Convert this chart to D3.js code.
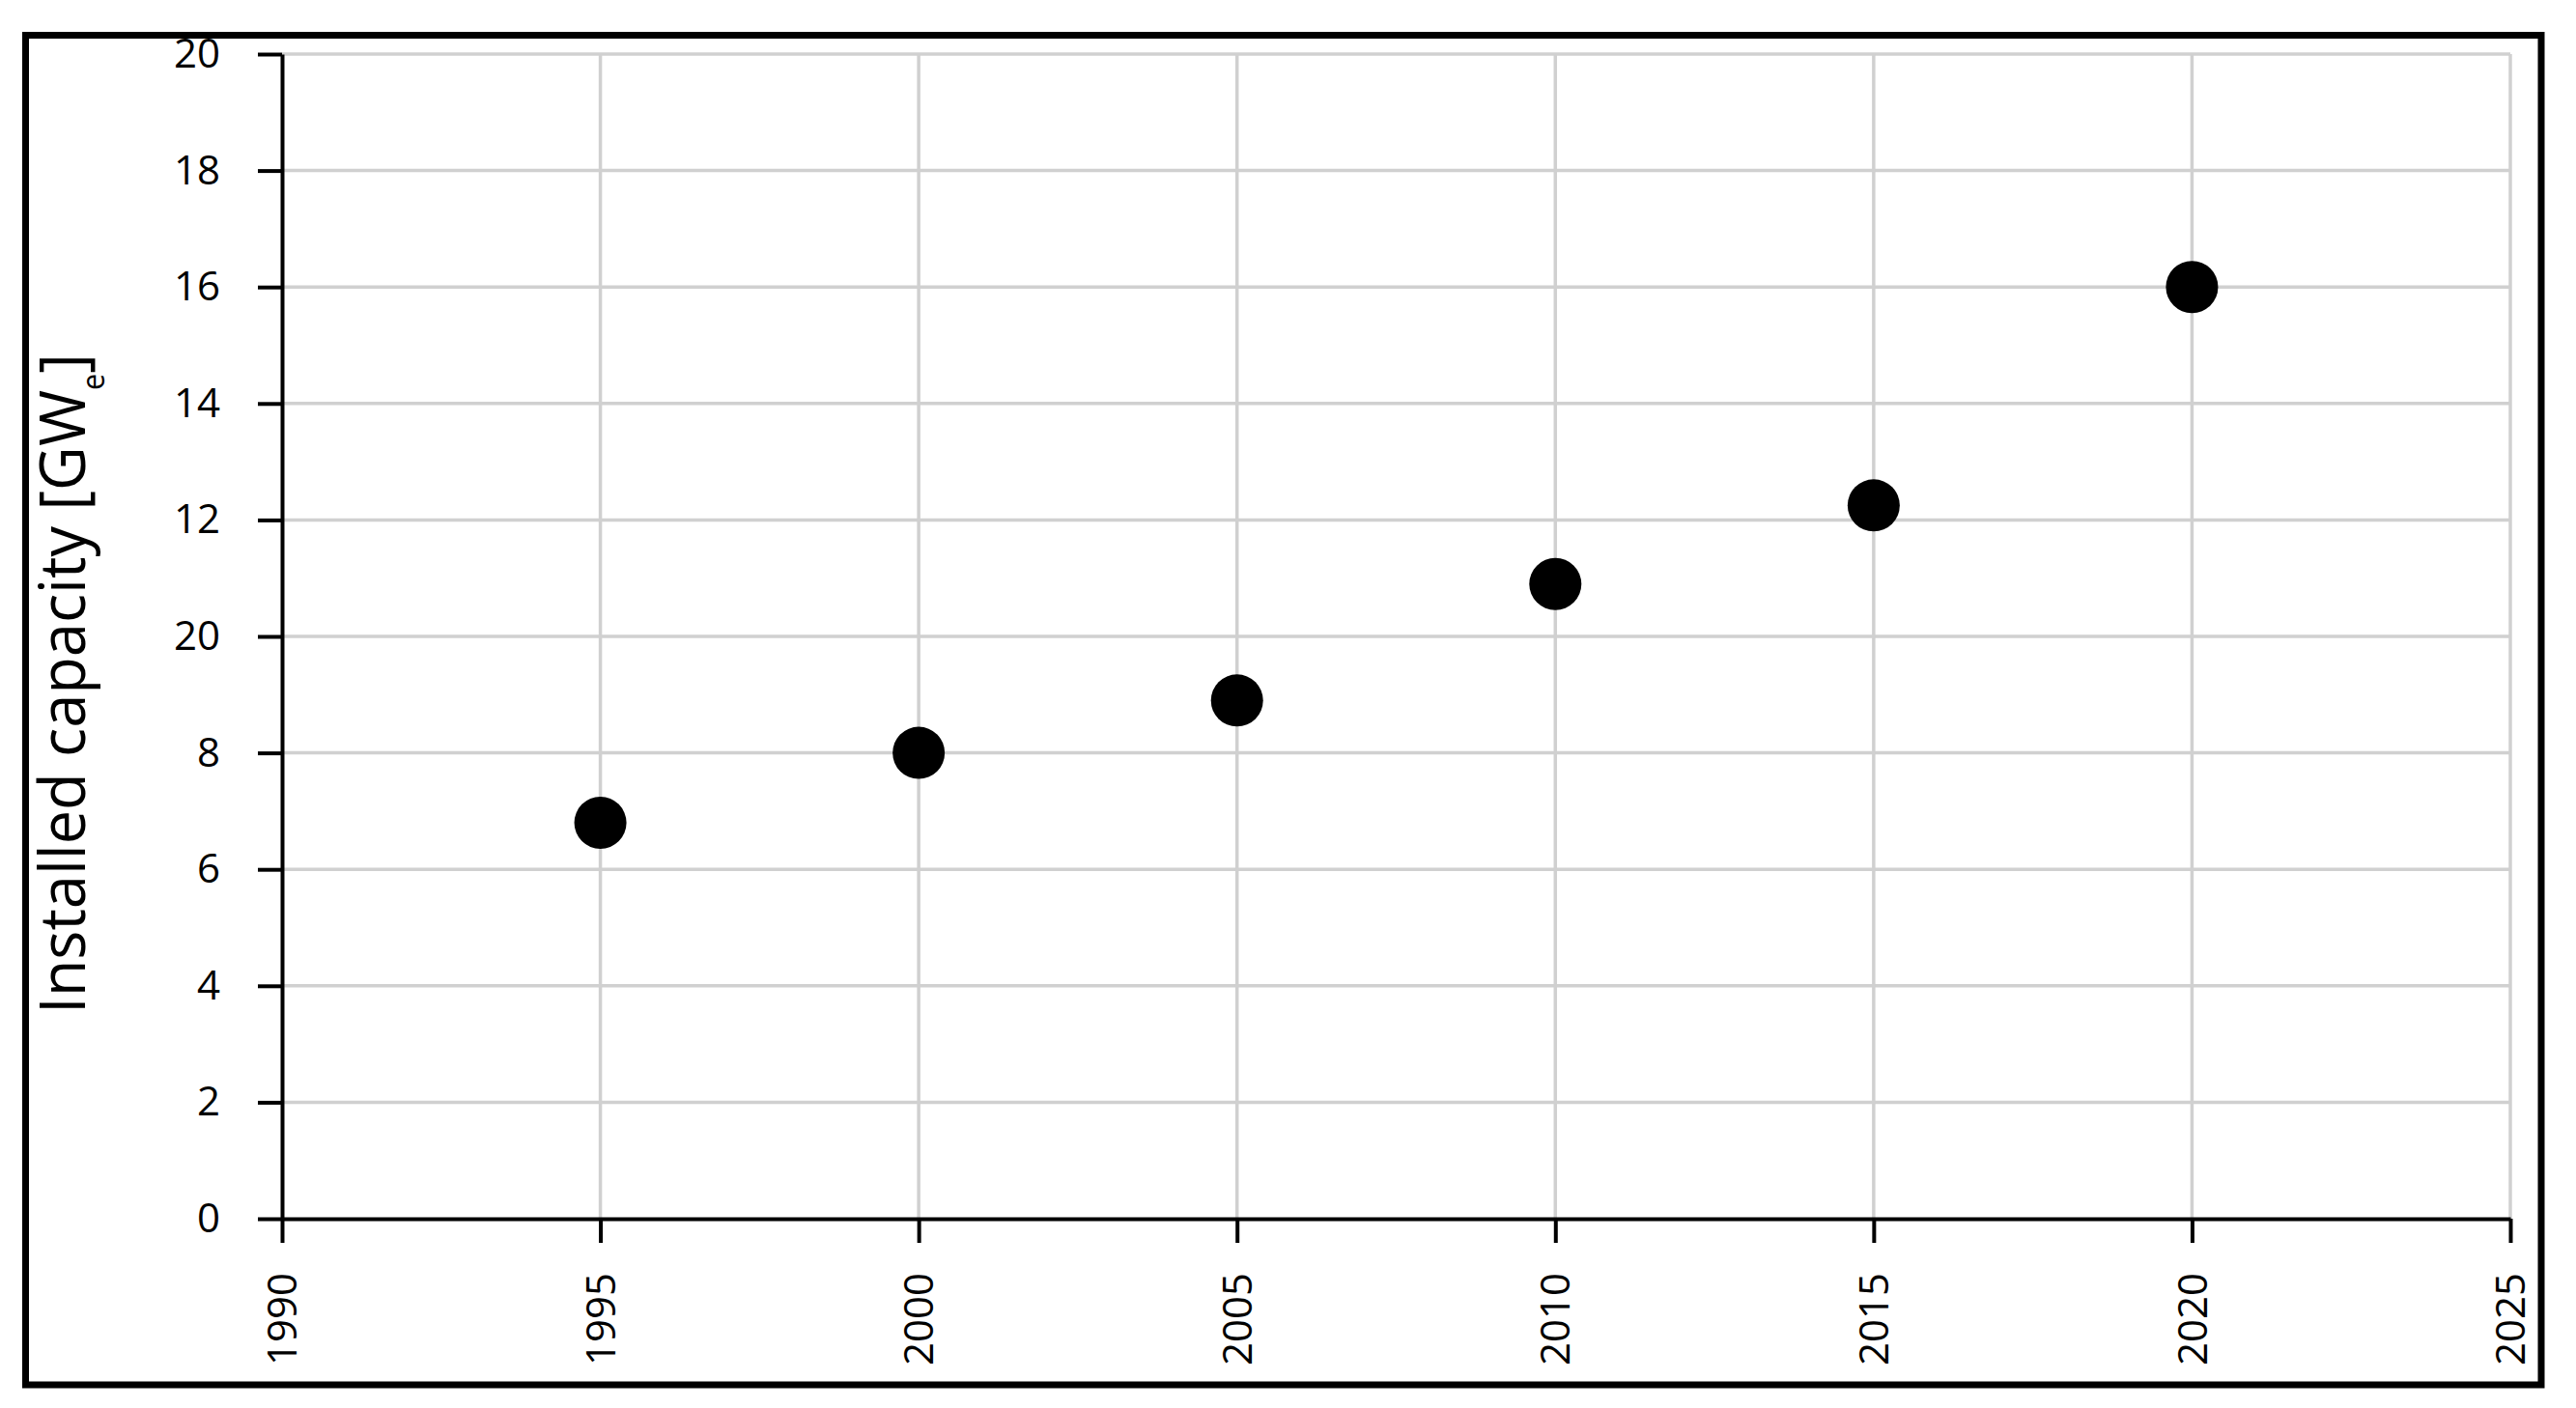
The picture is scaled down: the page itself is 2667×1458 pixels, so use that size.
<!DOCTYPE html>
<html>
<head>
<meta charset="utf-8">
<script src="https://cdn.jsdelivr.net/npm/d3@7"></script>
<style>
  html, body { margin: 0; padding: 0; background: #fff; }
  svg { display: block; }
  text { font-family: "Open Sans", "Noto Sans", sans-serif; fill: #000; }
</style>
</head>
<body>
<svg id="chart" width="2667" height="1458"></svg>
<script>
// ---- Data ----
const years = [1995, 2000, 2005, 2010, 2015, 2020];
const capacity = [6.8, 8.0, 8.9, 10.9, 12.25, 16.0];
const xTickValues = [1990, 1995, 2000, 2005, 2010, 2015, 2020, 2025];
const yTickValues = [0, 2, 4, 6, 8, 10, 12, 14, 16, 18, 20];
const yTickLabels = ["0", "2", "4", "6", "8", "20", "12", "14", "16", "18", "20"];
const yTitleMain = "Installed capacity [GW";
const yTitleSub = "e";
const yTitleEnd = "]";

// ---- Layout ----
const W = 2667, H = 1458;
const plot = { left: 292, right: 2599, top: 56, bottom: 1262 };

const svg = d3.select("#chart");

svg.append("rect").attr("width", W).attr("height", H).attr("fill", "#fff");

// outer frame
svg.append("rect")
  .attr("x", 26.5).attr("y", 36.5)
  .attr("width", 2604.5).attr("height", 1397.5)
  .attr("fill", "none").attr("stroke", "#000").attr("stroke-width", 7);

const x = d3.scaleLinear().domain([1990, 2025]).range([plot.left, plot.right]);
const y = d3.scaleLinear().domain([0, 20]).range([plot.bottom, plot.top]);

const gridColor = "#d0d0d0";
// horizontal gridlines
svg.append("g").selectAll("line")
  .data(yTickValues.filter(d => d > 0))
  .join("line")
  .attr("x1", plot.left).attr("x2", plot.right)
  .attr("y1", d => y(d)).attr("y2", d => y(d))
  .attr("stroke", gridColor).attr("stroke-width", 3.5);
// vertical gridlines
svg.append("g").selectAll("line")
  .data(xTickValues.filter(d => d > 1990))
  .join("line")
  .attr("x1", d => x(d)).attr("x2", d => x(d))
  .attr("y1", plot.top).attr("y2", plot.bottom)
  .attr("stroke", gridColor).attr("stroke-width", 3.5);

// y axis
const yAxis = svg.append("g")
  .attr("transform", `translate(${plot.left},0)`)
  .call(d3.axisLeft(y).tickValues(yTickValues)
    .tickFormat((d, i) => yTickLabels[i])
    .tickSize(25).tickPadding(39).tickSizeOuter(0));
yAxis.select(".domain").attr("stroke", "#000").attr("stroke-width", 4);
yAxis.selectAll(".tick line").attr("stroke", "#000").attr("stroke-width", 4);
yAxis.selectAll(".tick text")
  .attr("font-family", "Open Sans").attr("font-size", 42).attr("fill", "#000");

// x axis
const xAxis = svg.append("g")
  .attr("transform", `translate(0,${plot.bottom})`)
  .call(d3.axisBottom(x).tickValues(xTickValues)
    .tickFormat(d3.format("d")).tickSize(25).tickSizeOuter(0));
xAxis.select(".domain").attr("stroke", "#000").attr("stroke-width", 4);
xAxis.selectAll(".tick line").attr("stroke", "#000").attr("stroke-width", 4);
xAxis.selectAll(".tick text")
  .attr("font-family", "Open Sans").attr("font-size", 42).attr("fill", "#000")
  .attr("transform", "rotate(-90)")
  .attr("text-anchor", "end")
  .attr("x", -56).attr("y", 0).attr("dy", "0.35em");

// points
svg.append("g").selectAll("circle")
  .data(years.map((yr, i) => ({ yr, v: capacity[i] })))
  .join("circle")
  .attr("cx", d => x(d.yr)).attr("cy", d => y(d.v))
  .attr("r", 27).attr("fill", "#000");

// y title
const tg = svg.append("g").attr("transform", "translate(88,708) rotate(-90)");
const title = tg.append("text")
  .attr("text-anchor", "middle")
  .attr("font-size", 66);
title.append("tspan").text(yTitleMain);
title.append("tspan").attr("font-size", 32).attr("dy", 20).text(yTitleSub);
title.append("tspan").attr("dy", -20).text(yTitleEnd);
const len = title.node().getComputedTextLength();
const target = 684;
if (len > 0) tg.attr("transform", `translate(88,708) rotate(-90) scale(${target / len},1)`);
</script>
</body>
</html>
